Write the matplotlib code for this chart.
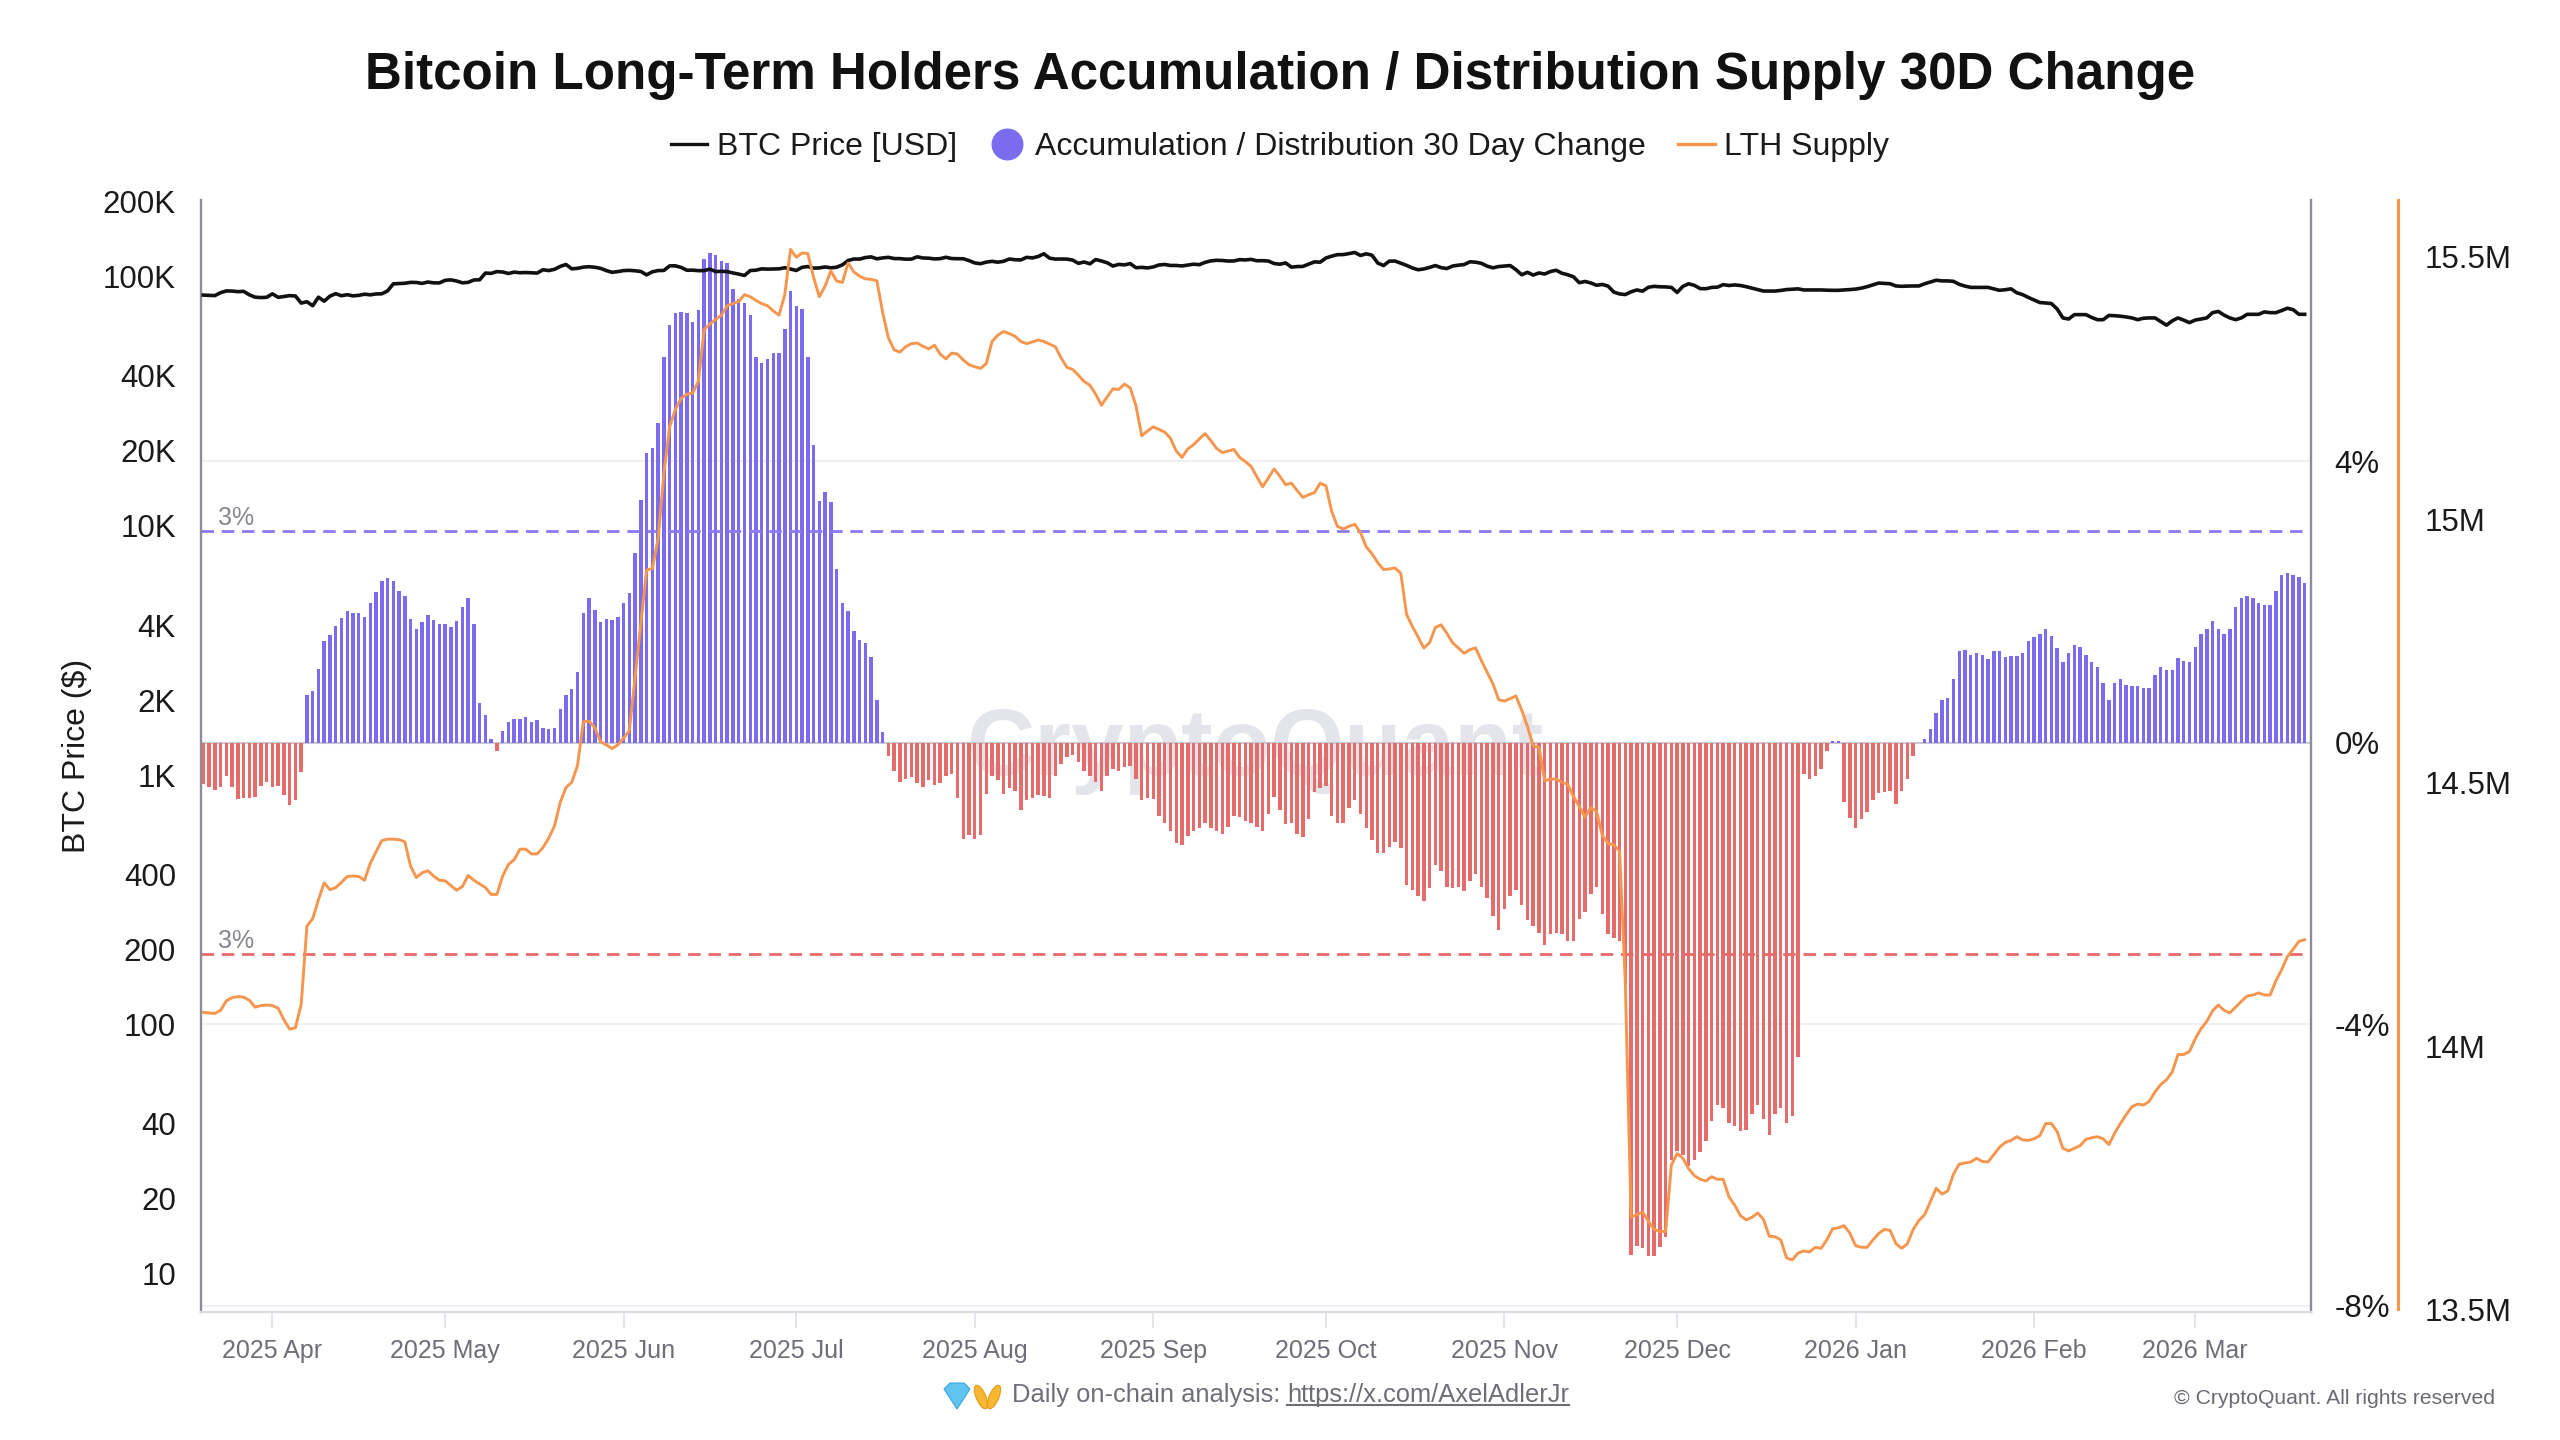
import numpy as np
import pandas as pd
import matplotlib
matplotlib.use("Agg")
import matplotlib.pyplot as plt
import matplotlib.dates as mdates
from matplotlib.lines import Line2D
from matplotlib.patches import Polygon, Ellipse
from matplotlib.ticker import FixedLocator, FixedFormatter, NullLocator

plt.rcParams['font.family'] = ['Liberation Sans', 'DejaVu Sans']

# daily data, 2025-03-20 .. 2026-03-20
start_date = "2025-03-20"

btc_price_k = [
    84.2, 84.0, 83.8, 86.1, 87.5, 87.4, 86.9, 87.2, 84.4, 82.6,
    82.3, 82.5, 85.2, 82.5, 83.1, 83.8, 83.5, 78.2, 79.2, 76.3,
    82.6, 79.6, 83.4, 85.3, 83.7, 84.5, 83.6, 84.0, 84.9, 84.4,
    85.1, 85.2, 87.5, 93.4, 93.7, 93.9, 94.7, 94.6, 93.8, 95.0,
    94.3, 94.2, 96.5, 96.9, 95.9, 94.3, 94.7, 96.8, 97.0, 103.2,
    102.9, 104.6, 104.2, 102.8, 104.1, 103.5, 103.7, 103.5, 103.2, 106.4,
    105.6, 106.8, 109.7, 111.7, 107.3, 107.8, 109.0, 109.4, 108.9, 107.8,
    105.6, 103.9, 104.6, 105.6, 105.8, 105.4, 104.7, 101.5, 104.4, 105.6,
    105.7, 110.3, 110.3, 108.7, 105.9, 106.0, 105.5, 105.6, 107.0, 104.6,
    104.9, 104.6, 103.3, 102.2, 100.9, 105.6, 106.0, 107.3, 107.0, 107.2,
    107.3, 108.4, 107.1, 105.7, 108.8, 109.6, 108.0, 108.2, 109.2, 108.3,
    108.9, 111.3, 115.9, 117.5, 117.4, 119.1, 119.8, 117.7, 118.7, 119.3,
    118.0, 117.9, 117.3, 117.4, 119.9, 118.6, 118.4, 117.6, 117.9, 119.4,
    118.0, 117.8, 117.8, 115.8, 113.3, 112.5, 114.2, 115.0, 114.1, 115.0,
    117.5, 116.7, 116.5, 119.3, 118.7, 120.2, 123.3, 118.4, 117.4, 117.5,
    117.4, 116.3, 112.9, 114.3, 112.4, 116.9, 115.4, 113.5, 110.1, 111.8,
    111.3, 112.6, 108.4, 108.8, 108.2, 109.2, 111.2, 111.7, 110.7, 110.7,
    110.2, 111.1, 112.0, 111.5, 113.9, 115.5, 116.1, 115.9, 115.3, 115.4,
    116.8, 116.5, 117.1, 115.6, 115.7, 115.3, 112.7, 112.0, 113.3, 109.0,
    109.6, 109.7, 112.1, 114.4, 114.1, 118.6, 120.6, 122.3, 122.4, 123.5,
    124.8, 121.4, 123.3, 121.7, 113.2, 110.6, 115.2, 115.3, 113.0, 110.8,
    108.2, 106.4, 107.2, 108.7, 110.6, 108.5, 107.6, 110.1, 111.0, 111.6,
    114.5, 114.1, 112.9, 110.0, 108.3, 109.6, 110.1, 110.6, 106.5, 101.6,
    103.9, 101.3, 103.3, 102.3, 104.7, 105.9, 103.0, 101.6, 99.7, 94.4,
    95.5, 94.2, 92.2, 92.9, 91.5, 86.6, 85.1, 84.6, 86.8, 88.3,
    87.3, 90.5, 91.3, 90.9, 90.8, 90.4, 86.3, 91.3, 93.5, 92.1,
    89.4, 89.3, 90.4, 90.6, 92.7, 92.0, 92.5, 92.0, 91.0, 89.8,
    88.6, 87.4, 87.4, 87.4, 87.9, 88.6, 88.9, 89.2, 88.3, 88.3,
    88.3, 88.3, 88.1, 88.0, 88.0, 88.3, 88.6, 89.0, 89.8, 91.0,
    92.5, 94.1, 93.8, 93.5, 91.6, 91.3, 91.5, 91.6, 91.6, 93.5,
    95.0, 96.6, 96.0, 96.0, 95.6, 93.0, 91.5, 90.4, 90.4, 90.4,
    90.4, 89.2, 88.0, 88.5, 89.2, 86.0, 84.6, 82.4, 80.5, 78.6,
    78.3, 77.9, 74.1, 68.2, 67.5, 70.3, 70.3, 70.3, 68.5, 67.1,
    67.1, 69.8, 69.6, 69.3, 68.8, 68.2, 67.1, 68.0, 68.2, 68.2,
    66.0, 63.8, 66.4, 68.2, 66.8, 65.3, 66.9, 67.5, 68.2, 71.6,
    72.4, 70.0, 68.2, 67.1, 68.2, 70.5, 70.5, 70.5, 72.1, 71.6,
    71.6, 73.0, 74.6, 73.6, 70.5, 70.5,
]

# accumulation / distribution 30 day change, %
acc_dist_pct = [
    -0.59, -0.63, -0.68, -0.63, -0.47, -0.63, -0.80, -0.78, -0.78, -0.77,
    -0.61, -0.56, -0.63, -0.61, -0.74, -0.88, -0.81, -0.42,
    0.67, 0.73, 1.05, 1.44, 1.53, 1.66, 1.77, 1.87, 1.84, 1.84,
    1.79, 1.98, 2.14, 2.29, 2.34, 2.29, 2.16, 2.09, 1.75, 1.62,
    1.72, 1.82, 1.74, 1.69, 1.69, 1.64, 1.73, 1.93, 2.05, 1.69,
    0.56, 0.39, 0.05, -0.12, 0.17, 0.30, 0.33, 0.34, 0.36, 0.30,
    0.32, 0.21, 0.19, 0.21, 0.48, 0.67, 0.76, 1.01, 1.84, 2.05,
    1.89, 1.71, 1.75, 1.74, 1.78, 1.98, 2.12, 2.70, 3.45, 4.11,
    4.18, 4.54, 5.48, 5.94, 6.10, 6.12, 6.10, 5.98, 6.14, 6.87,
    6.96, 6.93, 6.84, 6.82, 6.45, 6.31, 6.24, 6.07, 5.48, 5.40,
    5.45, 5.53, 5.53, 5.88, 6.41, 6.21, 6.16, 5.48, 4.23, 3.44,
    3.56, 3.42, 2.47, 1.99, 1.87, 1.59, 1.46, 1.41, 1.22, 0.60,
    0.15, -0.19, -0.40, -0.56,
    -0.51, -0.49, -0.57, -0.63, -0.53, -0.60, -0.57, -0.47, -0.45, -0.78,
    -1.37, -1.31, -1.37, -1.31, -0.73, -0.47, -0.53, -0.73, -0.65, -0.69,
    -0.96, -0.82, -0.78, -0.74, -0.76, -0.78, -0.48, -0.31, -0.21, -0.17,
    -0.28, -0.41, -0.47, -0.56, -0.69, -0.48, -0.37, -0.41, -0.35, -0.33,
    -0.51, -0.82, -0.79, -0.80, -1.04, -1.14, -1.26, -1.42, -1.46, -1.32,
    -1.25, -1.21, -1.14, -1.22, -1.26, -1.30, -1.20, -1.04, -1.06, -1.12,
    -1.14, -1.20, -1.25, -1.01, -0.77, -0.96, -1.16, -1.14, -1.30, -1.34,
    -1.09, -0.70, -0.65, -0.61, -1.04, -1.14, -1.14, -0.93, -0.81, -1.02,
    -1.22, -1.38, -1.57, -1.57, -1.48, -1.41, -1.50, -2.02, -2.10, -2.18,
    -2.25, -2.06, -1.74, -1.82, -2.05, -2.06, -2.05, -2.11, -1.96, -1.86,
    -2.05, -2.21, -2.47, -2.66, -2.36, -2.18, -2.10, -2.31, -2.52, -2.61,
    -2.70, -2.88, -2.72, -2.70, -2.72, -2.82, -2.82, -2.50, -2.40, -2.15,
    -2.05, -2.44, -2.72,
    -2.78, -2.82, -3.43, -7.28, -7.15, -7.18, -7.30, -7.30, -7.16, -7.02,
    -5.93, -5.80, -5.86, -6.02, -5.93, -5.82, -5.66, -5.37, -5.15, -5.19,
    -5.41, -5.45, -5.52, -5.51, -5.28, -5.15, -5.35, -5.57, -5.28, -5.19,
    -5.41, -5.31, -4.47, -0.45, -0.51, -0.48, -0.37, -0.12, 0.03, 0.03,
    -0.85, -1.07, -1.21, -1.09, -0.98, -0.82, -0.72, -0.70, -0.69, -0.87,
    -0.69, -0.51, -0.19, 0.00, 0.05, 0.19, 0.42, 0.60, 0.64, 0.91,
    1.30, 1.32, 1.25, 1.27, 1.25, 1.19, 1.30, 1.30, 1.21, 1.23,
    1.23, 1.27, 1.45, 1.50, 1.55, 1.62, 1.52, 1.35, 1.15, 1.27,
    1.39, 1.36, 1.25, 1.14, 1.07, 0.85, 0.60, 0.85, 0.91, 0.82,
    0.80, 0.80, 0.78, 0.77, 0.96, 1.07, 1.03, 1.03, 1.20, 1.16,
    1.15, 1.36, 1.55, 1.62, 1.73, 1.62, 1.55, 1.62, 1.93, 2.05,
    2.09, 2.05, 1.99, 1.95, 1.95, 2.16, 2.38, 2.41, 2.38, 2.36,
    2.27,
]

# long-term holder supply, million BTC
lth_supply_m = [
    14.064, 14.063, 14.062, 14.068, 14.086, 14.092, 14.094, 14.093, 14.087, 14.074,
    14.077, 14.078, 14.077, 14.072, 14.050, 14.032, 14.035, 14.079, 14.228, 14.242,
    14.278, 14.310, 14.297, 14.301, 14.311, 14.322, 14.323, 14.322, 14.315, 14.347,
    14.369, 14.390, 14.393, 14.393, 14.392, 14.388, 14.342, 14.320, 14.329, 14.333,
    14.323, 14.315, 14.314, 14.305, 14.296, 14.303, 14.324, 14.315, 14.308, 14.301,
    14.288, 14.288, 14.323, 14.345, 14.354, 14.374, 14.374, 14.365, 14.365, 14.377,
    14.395, 14.418, 14.463, 14.491, 14.501, 14.533, 14.616, 14.617, 14.605, 14.578,
    14.572, 14.565, 14.572, 14.585, 14.599, 14.701, 14.802, 14.904, 14.907, 14.964,
    15.087, 15.176, 15.209, 15.230, 15.238, 15.240, 15.263, 15.361, 15.371, 15.380,
    15.388, 15.406, 15.410, 15.414, 15.427, 15.423, 15.416, 15.410, 15.406, 15.396,
    15.388, 15.427, 15.513, 15.498, 15.506, 15.505, 15.460, 15.423, 15.443, 15.472,
    15.453, 15.450, 15.487, 15.470, 15.462, 15.457, 15.456, 15.453, 15.393, 15.345,
    15.322, 15.318, 15.328, 15.334, 15.335, 15.329, 15.324, 15.331, 15.314, 15.305,
    15.316, 15.314, 15.303, 15.294, 15.290, 15.287, 15.296, 15.338, 15.350, 15.357,
    15.353, 15.348, 15.338, 15.334, 15.337, 15.341, 15.338, 15.333, 15.328, 15.307,
    15.289, 15.285, 15.274, 15.262, 15.255, 15.238, 15.217, 15.233, 15.248, 15.247,
    15.257, 15.250, 15.216, 15.159, 15.168, 15.176, 15.171, 15.166, 15.154, 15.130,
    15.118, 15.134, 15.142, 15.153, 15.163, 15.150, 15.135, 15.127, 15.130, 15.133,
    15.118, 15.110, 15.101, 15.081, 15.062, 15.079, 15.096, 15.082, 15.066, 15.069,
    15.055, 15.042, 15.047, 15.051, 15.069, 15.064, 15.015, 14.987, 14.982, 14.987,
    14.991, 14.975, 14.948, 14.935, 14.918, 14.905, 14.906, 14.908, 14.898, 14.820,
    14.797, 14.777, 14.756, 14.766, 14.795, 14.800, 14.784, 14.766, 14.756, 14.746,
    14.753, 14.756, 14.732, 14.710, 14.688, 14.658, 14.655, 14.660, 14.665, 14.638,
    14.607, 14.570, 14.567, 14.504, 14.507, 14.507, 14.501, 14.497, 14.474, 14.455,
    14.435, 14.453, 14.446, 14.400, 14.385, 14.382, 14.370, 14.120, 13.675, 13.680,
    13.685, 13.668, 13.652, 13.648, 13.648, 13.774, 13.796, 13.787, 13.767, 13.754,
    13.747, 13.744, 13.752, 13.747, 13.747, 13.714, 13.698, 13.678, 13.670, 13.675,
    13.683, 13.671, 13.639, 13.638, 13.632, 13.598, 13.594, 13.607, 13.611, 13.609,
    13.618, 13.616, 13.632, 13.653, 13.655, 13.659, 13.645, 13.621, 13.618, 13.618,
    13.632, 13.644, 13.652, 13.650, 13.625, 13.616, 13.625, 13.652, 13.669, 13.680,
    13.705, 13.730, 13.719, 13.725, 13.757, 13.776, 13.778, 13.780, 13.787, 13.781,
    13.780, 13.794, 13.808, 13.817, 13.821, 13.828, 13.822, 13.821, 13.824, 13.830,
    13.853, 13.853, 13.838, 13.806, 13.801, 13.806, 13.811, 13.823, 13.826, 13.828,
    13.824, 13.813, 13.835, 13.853, 13.870, 13.885, 13.890, 13.888, 13.895, 13.913,
    13.927, 13.936, 13.951, 13.984, 13.984, 13.990, 14.014, 14.033, 14.047, 14.067,
    14.078, 14.068, 14.063, 14.074, 14.085, 14.095, 14.097, 14.101, 14.097, 14.097,
    14.124, 14.145, 14.170, 14.184, 14.199, 14.202,
]

price_ticks = [10, 20, 40, 100, 200, 400, 1e3, 2e3, 4e3, 1e4, 2e4, 4e4, 1e5, 2e5]
price_tick_labels = ["10", "20", "40", "100", "200", "400", "1K", "2K", "4K",
                     "10K", "20K", "40K", "100K", "200K"]
pct_ticks = [-8, -4, 0, 4]
supply_ticks = [13.5, 14.0, 14.5, 15.0, 15.5]
supply_tick_labels = ["13.5M", "14M", "14.5M", "15M", "15.5M"]

BLUE = "#7B6BEF"
RED = "#E66B6B"
ORANGE = "#F5964F"
BLACK = "#111111"
AXIS_GRAY = "#8C8C9A"
FOOT_GRAY = "#6E6E78"

dates = pd.date_range(start_date, periods=len(btc_price_k), freq="D")
x = mdates.date2num(dates)
price = np.array(btc_price_k) * 1000
acc = np.array(acc_dist_pct)
supply = np.array(lth_supply_m)

W, H = 2560, 1440
fig = plt.figure(figsize=(W / 100, H / 100), dpi=100)
ax = fig.add_axes([201 / W, 1 - 1312 / H, 2110 / W, 1112 / H])
axp = ax.twinx()
axs = ax.twinx()
axp.set_zorder(1)
ax.set_zorder(2)
axs.set_zorder(3)
for a in (ax, axp, axs):
    a.patch.set_visible(False)

# bars (percent axis)
colors = [BLUE if v >= 0 else RED for v in acc]
axp.bar(x, acc, width=0.6, color=colors, zorder=2)
axp.axhline(0, color="#C9C9D3", lw=1.5, zorder=1)
axp.axhline(3, color="#8A7BF5", lw=2, ls=(0, (4.5, 2.8)), zorder=3)
axp.axhline(-3, color="#E86A6A", lw=2, ls=(0, (4.5, 2.8)), zorder=3)
axp.annotate("3%", xy=(0.008, 3), xycoords=("axes fraction", "data"),
             xytext=(0, 10), textcoords="offset points", ha="left", va="center",
             fontsize=18, color="#85858F")
axp.annotate("3%", xy=(0.008, -3), xycoords=("axes fraction", "data"),
             xytext=(0, 9.5), textcoords="offset points", ha="left", va="center",
             fontsize=18, color="#85858F")
axp.text(1255 / W, 1 - 775 / H, "CryptoQuant", transform=fig.transFigure,
         ha="center", va="baseline", fontsize=68, fontweight="bold",
         color="#E4E5EB", zorder=0.5)
axp.set_ylim(-8.09, 7.71)
axp.set_yticks(pct_ticks)
axp.set_yticklabels([f"{t}%" for t in pct_ticks])
axp.grid(axis="y", color="#EFEFF3", lw=1.3)
axp.set_axisbelow(True)
axp.tick_params(axis="y", length=0, pad=17, labelsize=22.5, labelcolor="#1a1a1a")

# BTC price (log, left)
ax.plot(x, price, color=BLACK, lw=2.6, zorder=3)
ax.set_yscale("log")
ax.set_ylim(7.04, 202600)
ax.yaxis.set_major_locator(FixedLocator(price_ticks))
ax.yaxis.set_major_formatter(FixedFormatter(price_tick_labels))
ax.yaxis.set_minor_locator(NullLocator())
ax.tick_params(axis="y", which="both", length=0, pad=18, labelsize=22.5,
               labelcolor="#1a1a1a")

# LTH supply (outer right)
axs.plot(x, supply, color=ORANGE, lw=2.1, zorder=3)
axs.set_ylim(13.4951, 15.6067)
axs.set_yticks(supply_ticks)
axs.set_yticklabels(supply_tick_labels)
axs.tick_params(axis="y", length=0, pad=19, labelsize=22.5, labelcolor="#1a1a1a")
axs.spines["right"].set_position(("axes", 1 + 87 / 2110))
axs.spines["right"].set_color(ORANGE)
axs.spines["right"].set_linewidth(2.2)
axs.spines["right"].set_bounds(13.5, 15.6067)

# x axis
ax.set_xlim(x[0] - 0.40, x[-1] + 1.1)
ax.xaxis.set_major_locator(mdates.MonthLocator())
ax.xaxis.set_major_formatter(mdates.DateFormatter("%Y %b"))
ax.tick_params(axis="x", length=11.5, width=1.1, color="#DCDCE4", pad=8,
               labelsize=18, labelcolor=FOOT_GRAY)

for a in (ax, axp, axs):
    a.spines["top"].set_visible(False)
ax.spines["right"].set_visible(False)
axp.spines["left"].set_visible(False)
axp.spines["bottom"].set_visible(False)
axs.spines["left"].set_visible(False)
axs.spines["bottom"].set_visible(False)
ax.spines["left"].set_color(AXIS_GRAY)
ax.spines["left"].set_linewidth(1.7)
axp.spines["right"].set_color(AXIS_GRAY)
axp.spines["right"].set_linewidth(1.7)
ax.spines["bottom"].set_color("#DADAE3")
ax.spines["bottom"].set_linewidth(1.5)

fig.text(76.7 / W, 1 - 756 / H, "BTC Price ($)", rotation=90, ha="center",
         va="center", fontsize=23, color="#1a1a1a")

fig.text(0.5, 1 - 76 / H,
         "Bitcoin Long-Term Holders Accumulation / Distribution Supply 30D Change",
         ha="center", va="center", fontsize=36.8, fontweight="bold", color="#111111")

handles = [
    Line2D([], [], color=BLACK, lw=2.4),
    Line2D([], [], ls="none", marker="o", markersize=22, color=BLUE),
    Line2D([], [], color=ORANGE, lw=2.4),
]
fig.legend(handles, ["BTC Price [USD]", "Accumulation / Distribution 30 Day Change",
                     "LTH Supply"],
           loc="center", bbox_to_anchor=(0.5, 1 - 147 / H), ncol=3, frameon=False,
           fontsize=23, handlelength=1.15, handletextpad=0.3, columnspacing=1.0,
           labelcolor="#1a1a1a")

# footer: gem + raised hands drawn as small shapes, then the text
fy = 1 - 1395 / H
gem = [(944, 1389), (950, 1383), (964, 1383), (970, 1389), (957, 1409)]
fig.add_artist(Polygon([(px / W, 1 - py / H) for px, py in gem], closed=True,
                       transform=fig.transFigure, facecolor="#5FC4F0",
                       edgecolor="#3AA6DD", lw=0.8))
for cx, ang in ((981, 12), (994, -12)):
    fig.add_artist(Ellipse((cx / W, 1 - 1397 / H), 10 / W, 24 / H, angle=ang,
                           transform=fig.transFigure, facecolor="#F7B733",
                           edgecolor="#E39B12", lw=0.8))
t1 = fig.text(1012 / W, fy, "Daily on-chain analysis: ", ha="left", va="center",
              fontsize=18.4, color=FOOT_GRAY)
fig.canvas.draw()
renderer = fig.canvas.get_renderer()
bb1 = t1.get_window_extent(renderer)
t2 = fig.text(bb1.x1 / W, fy, "https://x.com/AxelAdlerJr", ha="left", va="center",
              fontsize=18.4, color=FOOT_GRAY)
bb2 = t2.get_window_extent(renderer)
uy = (bb2.y0 + 2) / H
fig.add_artist(Line2D([bb2.x0 / W, bb2.x1 / W], [uy, uy], transform=fig.transFigure,
                      color=FOOT_GRAY, lw=1.5))
fig.text(2495 / W, 1 - 1398 / H, "\u00a9 CryptoQuant. All rights reserved",
         ha="right", va="center", fontsize=15.2, color="#6A6A72")

fig.savefig("out.png", dpi=100)
